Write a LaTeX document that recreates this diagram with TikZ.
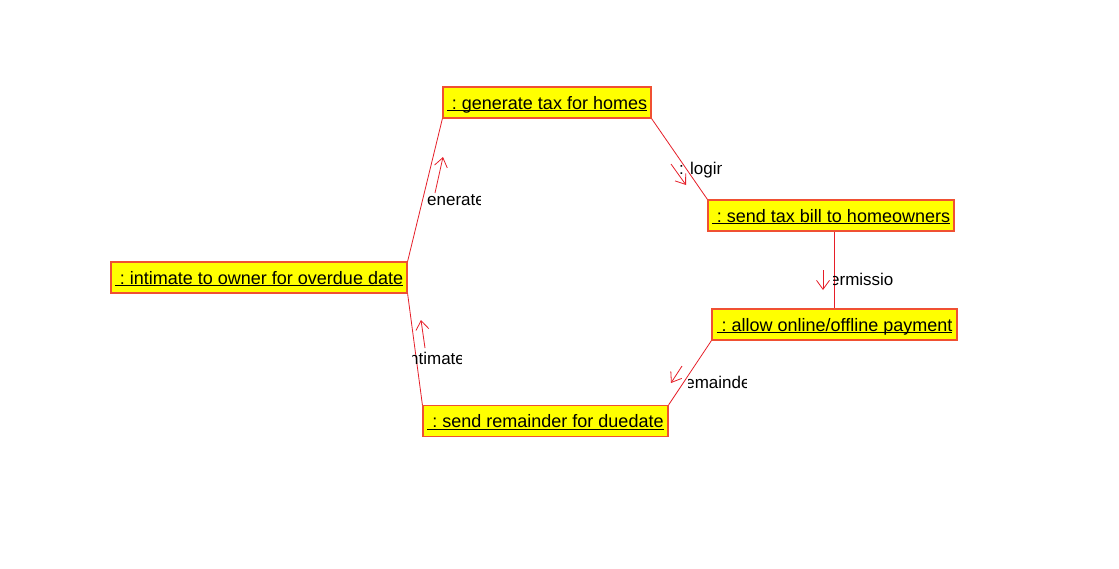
\documentclass[tikz,border=0pt]{standalone}
\usepackage{fontspec}
\setmainfont{Liberation Sans}
\usetikzlibrary{arrows.meta,calc}
\definecolor{boxborder}{RGB}{240,80,50}
\definecolor{boxfill}{RGB}{255,255,0}
\definecolor{linkred}{RGB}{230,30,40}
\tikzset{
  obj/.style={draw=boxborder, fill=boxfill, line width=1.2pt, inner sep=0pt,
    minimum height=31pt, text height=13pt, text depth=0pt,
    font=\fontsize{18}{20}\selectfont},
  link/.style={draw=linkred, line width=0.8pt},
  msgarrow/.style={draw=linkred, line width=0.8pt, -{Straight Barb[length=9pt,width=13pt,line width=0.8pt]}},
  msglabel/.style={inner sep=0pt, anchor=west, text height=13pt, text depth=0pt,
    font=\fontsize{17}{20}\selectfont}
}
\newcommand{\objtext}[1]{\underline{\smash{\hspace*{5pt}:\ #1}}}
\begin{document}
\begin{tikzpicture}[x=1pt,y=-1pt]
\useasboundingbox[fill=white] (0,0) rectangle (1119,568);
% objects
\node[obj, minimum width=208pt] (A) at (547,102.5) {\objtext{generate tax for homes}};
\node[obj, minimum width=246pt] (B) at (831,215.5) {\objtext{send tax bill to homeowners}};
\node[obj, minimum width=245pt] (C) at (834.5,324.5) {\objtext{allow online/offline payment}};
\node[obj, minimum width=245pt] (D) at (545.5,421) {\objtext{send remainder for duedate}};
\node[obj, minimum width=296pt] (E) at (259,277.5) {\objtext{intimate to owner for overdue date}};
% links
\draw[link] (E.north east) -- (A.south west);
\draw[link] (A.south east) -- (B.north west);
\draw[link] (C.north |- B.south) -- (C.north);
\draw[link] (C.south west) -- (D.north east);
\draw[link] (D.north west) -- (E.south east);
% message arrows
\coordinate (a1s) at (435,193); \coordinate (a1e) at (443,157);
\coordinate (a2s) at (671,164); \coordinate (a2e) at (686,185);
\coordinate (a3s) at (823,270); \coordinate (a3e) at (823,290);
\coordinate (a4s) at (682,366); \coordinate (a4e) at (671,383);
\coordinate (a5s) at (425,348); \coordinate (a5e) at (421,320);
\draw[msgarrow] (a1s) -- (a1e);
\draw[msgarrow] (a2s) -- (a2e);
\draw[msgarrow] (a3s) -- (a3e);
\draw[msgarrow] (a4s) -- (a4e);
\draw[msgarrow] (a5s) -- (a5e);
% clipped message labels
\begin{scope}\clip (427,184) rectangle (480,214);
\node[msglabel] (m1) at (417.5,199) {generate};\end{scope}
\begin{scope}\clip (679,153) rectangle (721,183);
\node[msglabel] (m2) at (679,168) {: login};\end{scope}
\begin{scope}\clip (833,264) rectangle (892,294);
\node[msglabel] (m3) at (820.5,279) {permission};\end{scope}
\begin{scope}\clip (688,367) rectangle (746,397);
\node[msglabel] (m4) at (679.5,382) {remainder};\end{scope}
\begin{scope}\clip (412,343) rectangle (461,373);
\node[msglabel] (m5) at (405.2,358) {intimate};\end{scope}
\end{tikzpicture}
\end{document}
